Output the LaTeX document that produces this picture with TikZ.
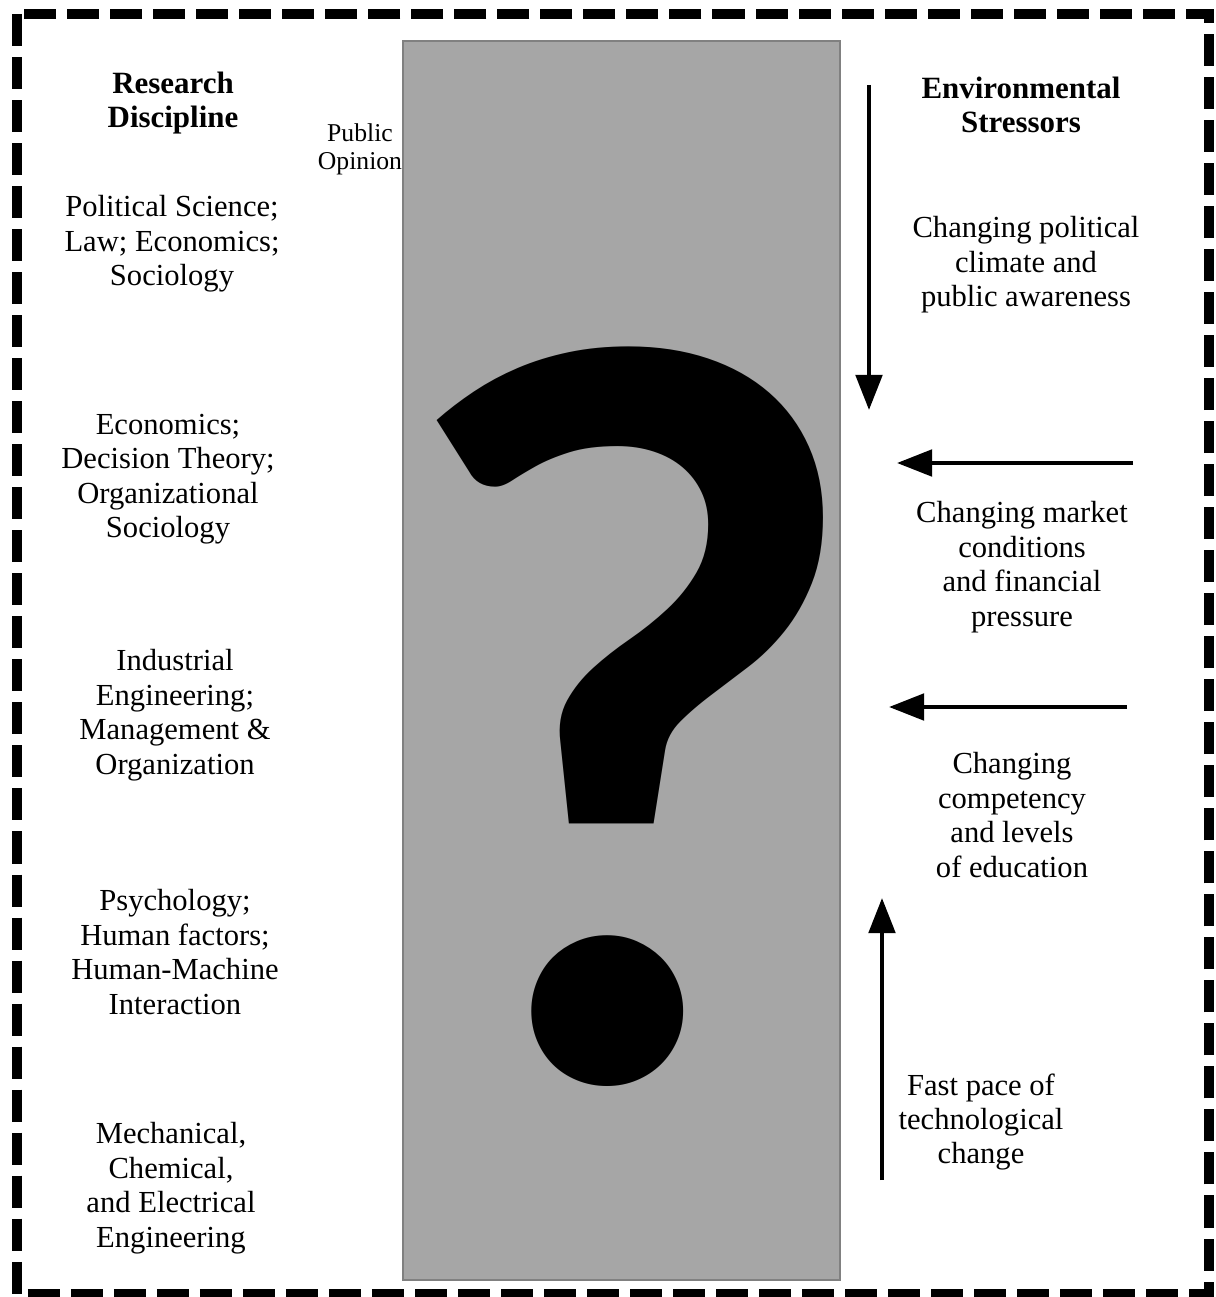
\documentclass[tikz,border=0pt]{standalone}
\usepackage{fontspec}
\setmainfont{Liberation Serif}
\newfontfamily\qfont{Lato}
\usetikzlibrary{arrows.meta}

\definecolor{colfill}{HTML}{A6A6A6}
\definecolor{coledge}{HTML}{808080}

\begin{document}
\begin{tikzpicture}[x=0.01cm,y=-0.01cm,>={Triangle[length=10pt,width=7.5pt]}]

        \tikzset{
          disc/.style={align=center,inner sep=0pt,font=\fontsize{8.7}{9.8}\selectfont},
          headline/.style={disc,font=\fontsize{8.8}{9.5}\selectfont\bfseries},
          stressor/.style={->,line width=1.2pt}
        }
        \useasboundingbox (0,0) rectangle (1216,1297);

        % Draw dashed frame
        \draw[line width=2.9pt, dash pattern=on 0.32cm off 0.11cm] (17,14) rectangle (1209,1294);

        % Draw grey column
        \draw[coledge, fill=colfill, line width=0.6pt] (403,41) rectangle (840,1280);
        \node[inner sep=0pt] (qmark) at (632,717) {\qfont\bfseries\fontsize{285}{285}\selectfont ?};

        % Left column
        \node[headline] (research) at (173,103) {Research\\Discipline};
        \node[disc, font=\fontsize{7.3}{8}\selectfont] (opinion) at (360,149) {Public\\Opinion};
        \node[disc] (discA) at (172,244) {Political Science;\\Law; Economics;\\Sociology};
        \node[disc] (discB) at (168,479) {Economics;\\Decision Theory;\\Organizational\\Sociology};
        \node[disc] (discC) at (175,715) {Industrial\\Engineering;\\Management \&\\Organization};
        \node[disc] (discD) at (175,952) {Psychology;\\Human factors;\\Human-Machine\\Interaction};
        \node[disc] (discE) at (171,1188) {Mechanical,\\Chemical,\\and Electrical\\Engineering};

        % Right column
        \node[headline] (environ) at (1021,105) {Environmental\\Stressors};
        \node[disc] (stressA) at (1026,265) {Changing political\\climate and\\public awareness};
        \node[disc] (stressB) at (1022,567) {Changing market\\conditions\\and financial\\pressure};
        \node[disc] (stressC) at (1012,815) {Changing\\competency\\and levels\\of education};
        \node[disc] (stressD) at (981,1122) {Fast pace of\\technological\\change};

        % Arrows
        \coordinate (aTop) at (869,85);
        \coordinate (aTopEnd) at (869,410);
        \coordinate (aMid) at (1133,463);
        \coordinate (aMidEnd) at (897,463);
        \coordinate (aLow) at (1127,707);
        \coordinate (aLowEnd) at (889,707);
        \coordinate (aBot) at (882,1180);
        \coordinate (aBotEnd) at (882,898);
        \draw[stressor] (aTop) -- (aTopEnd);
        \draw[stressor] (aMid) -- (aMidEnd);
        \draw[stressor] (aLow) -- (aLowEnd);
        \draw[stressor] (aBot) -- (aBotEnd);

    \end{tikzpicture}
\end{document}
